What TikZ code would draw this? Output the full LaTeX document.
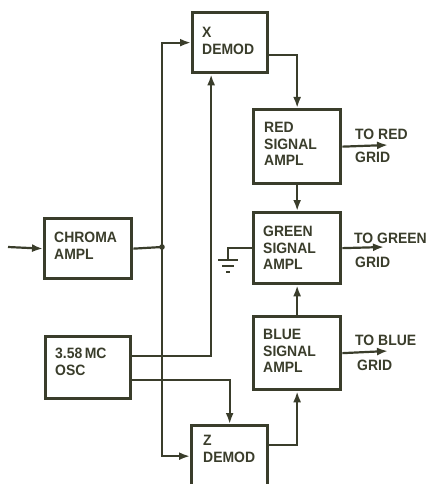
\documentclass[tikz,border=0pt]{standalone}
\usepackage{fontspec}
\setmainfont{Liberation Sans}[FakeStretch=0.93]
\usetikzlibrary{arrows.meta}
\definecolor{ink}{HTML}{3A3D2B}
\tikzset{
  box/.style={draw=ink, line width=3.3pt, rectangle, inner sep=0pt, anchor=north west},
  lbl/.style={text=ink, font=\bfseries\fontsize{15}{16.5}\selectfont, inner sep=0pt, anchor=north west, align=left},
  conn/.style={draw=ink, line width=2.2pt},
  arr/.style={conn, -{Latex[length=11pt,width=8pt]}}
}
\begin{document}
\begin{tikzpicture}[x=1pt,y=-1pt]
\useasboundingbox (0,0) rectangle (431,484);
% boxes
\node[box, minimum width=75pt, minimum height=60pt] (xd) at (191,11) {};
\node[box, minimum width=87pt, minimum height=74pt] (rd) at (252,108) {};
\node[box, minimum width=87pt, minimum height=71pt] (gr) at (252,211) {};
\node[box, minimum width=87pt, minimum height=73pt] (bl) at (252,315) {};
\node[box, minimum width=76pt, minimum height=61pt] (zd) at (190,424) {};
\node[box, minimum width=87pt, minimum height=60pt] (ch) at (43,217) {};
\node[box, minimum width=85pt, minimum height=62pt] (osc) at (44,335) {};
% box texts
\node[lbl] (xdt) at (202,27) {X\\DEMOD};
\node[lbl] (rdt) at (264,122) {RED\\SIGNAL\\AMPL};
\node[lbl] (grt) at (263,226) {GREEN\\SIGNAL\\AMPL};
\node[lbl] (blt) at (263,329) {BLUE\\SIGNAL\\AMPL};
\node[lbl] (zdt) at (203,435) {Z\\DEMOD};
\node[lbl] (cht) at (54,232) {CHROMA\\AMPL};
\node[lbl] (osct) at (55,348) {3.58\,MC\\OSC};
% output labels
\node[lbl] (tr) at (355,129) {TO RED};
\node[lbl] (trg) at (355,152) {GRID};
\node[lbl] (tg) at (354,233) {TO GREEN};
\node[lbl] (tgg) at (355,257) {GRID};
\node[lbl] (tb) at (355,335) {TO BLUE};
\node[lbl] (tbg) at (357,360) {GRID};
% coordinates
\coordinate (in) at (8,247);
\coordinate (jn) at (162,247);
\coordinate (ro) at (388,145);
\coordinate (go) at (384,247);
\coordinate (bo) at (388,351);
\coordinate (gnd) at (228,260);
% connectors
\draw[arr] (in) -- (ch.west);
\draw[conn] (ch.east) -- (jn);
\fill[ink] (jn) circle (2.8pt);
\draw[arr] (jn) |- (xd.west);
\draw[arr] (jn) |- (zd.west);
\draw[arr] ([yshift=12pt]osc.east) -| ([xshift=-19pt]xd.south);
\draw[arr] ([yshift=-12pt]osc.east) -| (zd.north);
\draw[arr] ([yshift=-12pt]xd.east) -| (rd.north);
\draw[arr] (rd.south) -- (gr.north);
\draw[arr] (bl.north) -- (gr.south);
\draw[arr] ([yshift=11pt]zd.east) -| (bl.south);
\draw[arr] (rd.east) -- (ro);
\draw[arr] (gr.east) -- (go);
\draw[arr] (bl.east) -- (bo);
% ground
\draw[conn] (gr.west) -| (gnd);
\draw[conn] ([xshift=-10pt]gnd) -- ([xshift=10pt]gnd);
\draw[conn] ([xshift=-6pt,yshift=-6pt]gnd) -- ([xshift=6pt,yshift=-6pt]gnd);
\draw[conn] ([xshift=-2pt,yshift=-12pt]gnd) -- ([xshift=2pt,yshift=-12pt]gnd);
\end{tikzpicture}
\end{document}
